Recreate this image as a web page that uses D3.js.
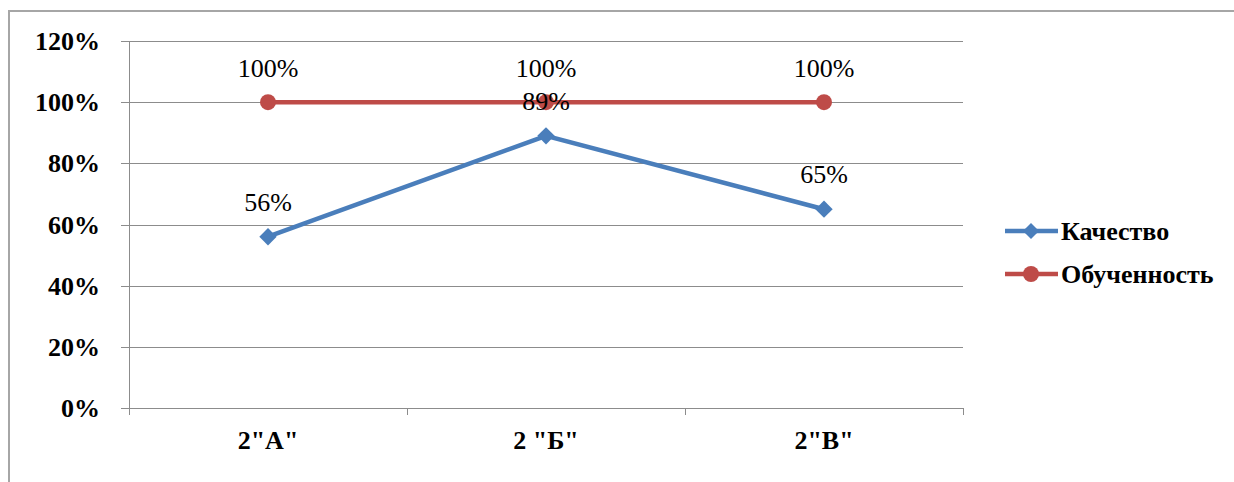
<!DOCTYPE html>
<html><head><meta charset="utf-8">
<script src="https://cdn.jsdelivr.net/npm/d3@7"></script>
<style>
body{margin:0;background:#fff}
svg{display:block;font-family:"Liberation Serif","Times New Roman",serif}
svg text{font-family:"Liberation Serif","Times New Roman",serif !important}
</style>
</head><body>
<svg id="c" width="1234" height="482"></svg>
<script>
const categories = ['2"А"', '2 "Б"', '2"В"'];
const quality = [0.56, 0.89, 0.65];
const learning = [1.00, 1.00, 1.00];
const yTicks = [0, 0.2, 0.4, 0.6, 0.8, 1.0, 1.2];
const seriesNames = ["Качество", "Обученность"];

const svg = d3.select("#c");
const FS = 26;
const L = 129, R = 963, T = 41, B = 408;
const blue = "#4a7ebb", red = "#be4b48";

svg.append("rect").attr("x", 9).attr("y", 11).attr("width", 1300).attr("height", 600)
  .attr("fill", "none").attr("stroke", "#a6a6a6").attr("stroke-width", 2);

const x = d3.scaleBand().domain(categories).range([L, R]);
const y = d3.scaleLinear().domain([0, 1.2]).range([B, T]);

svg.append("g").selectAll("line").data(yTicks).join("line")
  .attr("x1", L - 8).attr("x2", R).attr("y1", d => Math.round(y(d)) + 0.5).attr("y2", d => Math.round(y(d)) + 0.5)
  .attr("stroke", "#8c8c8c").attr("stroke-width", 1);

svg.append("line").attr("x1", L + 0.5).attr("x2", L + 0.5).attr("y1", T).attr("y2", B)
  .attr("stroke", "#8c8c8c");
const xt = [L, ...categories.map(c => x(c) + x.bandwidth())];
svg.append("g").selectAll("line").data(xt).join("line")
  .attr("x1", d => Math.round(d) + 0.5).attr("x2", d => Math.round(d) + 0.5)
  .attr("y1", B).attr("y2", B + 7).attr("stroke", "#8c8c8c");

const txt = (sel, bold) => sel.style("font-family", '"Liberation Serif"').style("font-size", FS + "px")
  .style("font-weight", bold ? "bold" : "normal").attr("fill", "#000");

txt(svg.append("g").selectAll("text").data(yTicks).join("text")
  .attr("x", 100).attr("y", d => y(d) + 9).attr("text-anchor", "end")
  .text(d => d3.format(".0%")(d)), true);

txt(svg.append("g").selectAll("text").data(categories).join("text")
  .attr("x", d => x(d) + x.bandwidth() / 2).attr("y", 449).attr("text-anchor", "middle")
  .text(d => d), true);

const cx = c => x(c) + x.bandwidth() / 2;
const line = d3.line().x((d, i) => cx(categories[i])).y(d => y(d));

svg.append("path").datum(learning).attr("d", line).attr("fill", "none").attr("stroke", red).attr("stroke-width", 4.5);
svg.append("g").selectAll("circle").data(learning).join("circle")
  .attr("cx", (d, i) => cx(categories[i])).attr("cy", d => y(d)).attr("r", 8).attr("fill", red);

svg.append("path").datum(quality).attr("d", line).attr("fill", "none").attr("stroke", blue).attr("stroke-width", 4.5);
svg.append("g").selectAll("path").data(quality).join("path")
  .attr("d", d3.symbol().type(d3.symbolSquare).size(150))
  .attr("transform", (d, i) => `translate(${cx(categories[i])},${y(d)}) rotate(45)`).attr("fill", blue);

const fmt = d3.format(".0%");
txt(svg.append("g").selectAll("text").data(learning).join("text")
  .attr("x", (d, i) => cx(categories[i])).attr("y", d => y(d) - 25).attr("text-anchor", "middle")
  .text(d => fmt(d)), false);
txt(svg.append("g").selectAll("text").data(quality).join("text")
  .attr("x", (d, i) => cx(categories[i])).attr("y", d => y(d) - 26).attr("text-anchor", "middle")
  .text(d => fmt(d)), false);

const lg = svg.append("g");
const ly = [231, 274];
const colors = [blue, red];
seriesNames.forEach((n, i) => {
  lg.append("line").attr("x1", 1005).attr("x2", 1058).attr("y1", ly[i]).attr("y2", ly[i])
    .attr("stroke", colors[i]).attr("stroke-width", 4.5);
  if (i === 0) {
    lg.append("path").attr("d", d3.symbol().type(d3.symbolSquare).size(130))
      .attr("transform", `translate(1031,${ly[i]}) rotate(45)`).attr("fill", blue);
  } else {
    lg.append("circle").attr("cx", 1031).attr("cy", ly[i]).attr("r", 8).attr("fill", red);
  }
  txt(lg.append("text").attr("x", 1061).attr("y", ly[i] + 9).text(n), true);
});
</script>
</body></html>
